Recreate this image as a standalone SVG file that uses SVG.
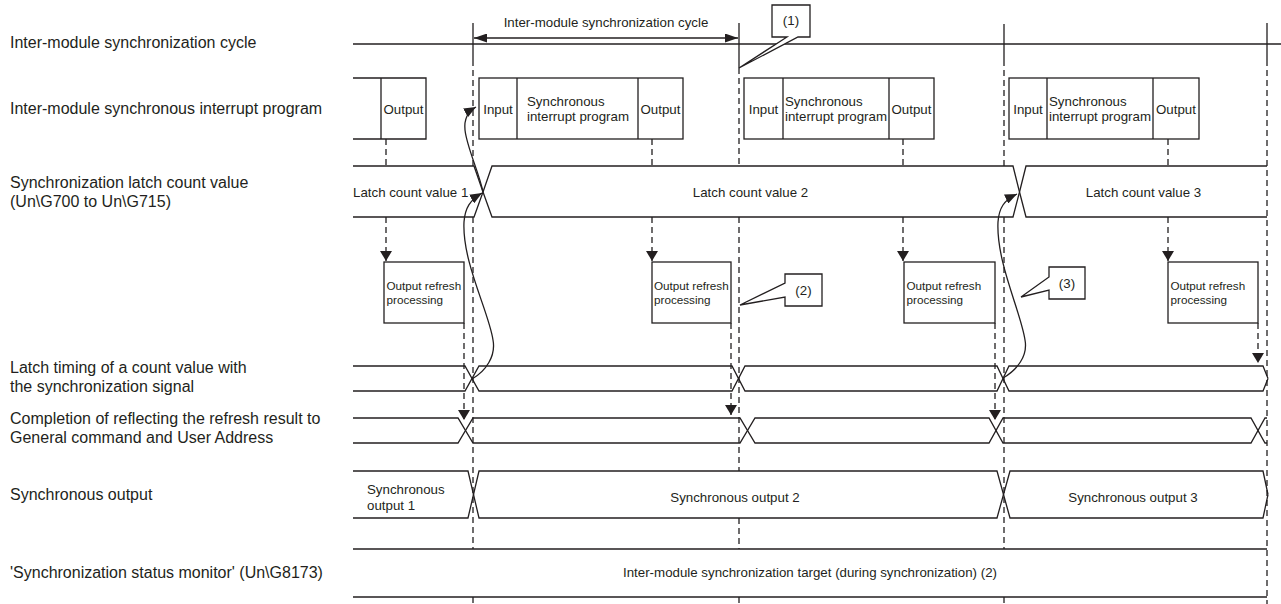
<svg xmlns="http://www.w3.org/2000/svg" width="1281" height="604" viewBox="0 0 1281 604">
<defs>
<style>
.ln{fill:none;stroke:#231f20;stroke-width:1.3}
.bx{fill:#fff;stroke:#231f20;stroke-width:1.3}
.ds{fill:none;stroke:#231f20;stroke-width:1.3;stroke-dasharray:6,4}
.lbl{font-family:"Liberation Sans",Arial,sans-serif;font-size:16px;fill:#231f20}
.t{font-family:"Liberation Sans",Arial,sans-serif;font-size:13.3px;fill:#231f20}
.ts{font-family:"Liberation Sans",Arial,sans-serif;font-size:11.7px;fill:#231f20}
.c{text-anchor:middle}
</style>
<marker id="ad" viewBox="0 0 10 12" refX="10" refY="6" markerWidth="10" markerHeight="12" markerUnits="userSpaceOnUse" orient="auto"><path d="M0,0 L10,6 L0,12 Z" fill="#231f20"/></marker>
<marker id="ac" viewBox="0 0 13 9" refX="13" refY="4.5" markerWidth="13" markerHeight="9" markerUnits="userSpaceOnUse" orient="auto-start-reverse"><path d="M0,0 L13,4.5 L0,9 Z" fill="#231f20"/></marker>
<marker id="av" viewBox="0 0 12 10" refX="12" refY="5" markerWidth="12" markerHeight="10" markerUnits="userSpaceOnUse" orient="auto"><path d="M0,0 L12,5 L0,10 Z" fill="#231f20"/></marker>
</defs>
<rect width="1281" height="604" fill="#fff"/>

<g id="labels">
<text class="lbl" x="10" y="48">Inter-module synchronization cycle</text>
<text class="lbl" x="10" y="114">Inter-module synchronous interrupt program</text>
<text class="lbl" x="10" y="188">Synchronization latch count value</text>
<text class="lbl" x="10" y="207">(Un\G700 to Un\G715)</text>
<text class="lbl" x="10" y="373">Latch timing of a count value with</text>
<text class="lbl" x="10" y="392">the synchronization signal</text>
<text class="lbl" x="10" y="424">Completion of reflecting the refresh result to</text>
<text class="lbl" x="10" y="443">General command and User Address</text>
<text class="lbl" x="10" y="500">Synchronous output</text>
<text class="lbl" x="10" y="578">'Synchronization status monitor' (Un\G8173)</text>
</g>

<g id="connectors">
<path class="ln" d="M353,44 H1281"/>
<path class="ln" d="M473,23 V60 M739,23 V68 M1004,24 V60 M1267,23 V60"/>
<path class="ds" d="M473,60 V166 M473,217 V549 M473,597 V604"/>
<path class="ds" d="M739,68 V166 M739,217 V471 M739,518 V549 M739,597 V604"/>
<path class="ds" d="M1004,60 V166 M1004,217 V549 M1004,597 V604"/>
<path class="ds" d="M1267,60 V604"/>
<path class="ln" d="M474,38 H738" marker-start="url(#ac)" marker-end="url(#ac)"/>
<path class="ds" d="M386,139 V166 M386,217 V261" marker-end="url(#ad)"/>
<path class="ds" d="M652,139 V166 M652,217 V261" marker-end="url(#ad)"/>
<path class="ds" d="M903,139 V166 M903,217 V261" marker-end="url(#ad)"/>
<path class="ds" d="M1168,139 V166 M1168,217 V261" marker-end="url(#ad)"/>
<path class="ds" d="M464,323 V420" marker-end="url(#ad)"/>
<path class="ds" d="M731,323 V415" marker-end="url(#ad)"/>
<path class="ds" d="M995,323 V420" marker-end="url(#ad)"/>
<path class="ds" d="M1258,323 V363" marker-end="url(#ad)"/>
<path class="ln" d="M472,379 C486,371 496,356 493,340 C489,312 462,262 464,222 C465,208 470,200 482,193" marker-end="url(#av)"/>
<path class="ln" d="M483,192 C479,172 467,148 465,130 C464,120 467,112 476,107" marker-end="url(#av)"/>
<path class="ln" d="M1003,378 C1017,370 1028,356 1025,340 C1021,312 996,262 998,222 C999,208 1004,200 1017,194" marker-end="url(#av)"/>
</g>

<text class="t c" x="606" y="27">Inter-module synchronization cycle</text>

<g id="prog1">
<path class="ln" d="M353,78 H426 V139 H353 M381,78 V139"/>
<text class="t c" x="403.5" y="114">Output</text>
</g>
<g id="prog2">
<rect class="bx" x="479" y="78" width="204" height="61"/>
<path class="ln" d="M517,78 V139 M638,78 V139"/>
<text class="t c" x="498" y="114">Input</text>
<text class="t" x="527" y="106">Synchronous</text>
<text class="t" x="527" y="121">interrupt program</text>
<text class="t c" x="660.5" y="114">Output</text>
</g>
<g id="prog3">
<rect class="bx" x="744" y="78" width="190" height="61"/>
<path class="ln" d="M783,78 V139 M889,78 V139"/>
<text class="t c" x="763.5" y="114">Input</text>
<text class="t" x="785" y="106">Synchronous</text>
<text class="t" x="785" y="121">interrupt program</text>
<text class="t c" x="911.5" y="114">Output</text>
</g>
<g id="prog4">
<rect class="bx" x="1009" y="78" width="190" height="61"/>
<path class="ln" d="M1047,78 V139 M1153,78 V139"/>
<text class="t c" x="1028" y="114">Input</text>
<text class="t" x="1049" y="106">Synchronous</text>
<text class="t" x="1049" y="121">interrupt program</text>
<text class="t c" x="1176" y="114">Output</text>
</g>

<g id="latch">
<path class="ln" d="M353,166 H474 L483,192 L474,217 H353"/>
<path class="ln" d="M483,192 L492,166 H1013 L1019.5,192 L1013,217 H492 Z"/>
<path class="ln" d="M1019.5,192 L1026,166 H1267 M1019.5,192 L1026,217 H1267"/>
<text class="t" x="353" y="197">Latch count value 1</text>
<text class="t c" x="750.5" y="197">Latch count value 2</text>
<text class="t c" x="1143.5" y="197">Latch count value 3</text>
</g>

<g id="refresh1">
<rect class="bx" x="384" y="262" width="80" height="61"/>
<text class="ts" x="386.5" y="290">Output refresh</text>
<text class="ts" x="386.5" y="304">processing</text>
</g>
<g id="refresh2">
<rect class="bx" x="652" y="262" width="79" height="61"/>
<text class="ts" x="654" y="290">Output refresh</text>
<text class="ts" x="654" y="304">processing</text>
</g>
<g id="refresh3">
<rect class="bx" x="904" y="262" width="91" height="61"/>
<text class="ts" x="906.5" y="290">Output refresh</text>
<text class="ts" x="906.5" y="304">processing</text>
</g>
<g id="refresh4">
<rect class="bx" x="1168" y="262" width="90" height="61"/>
<text class="ts" x="1170.5" y="290">Output refresh</text>
<text class="ts" x="1170.5" y="304">processing</text>
</g>

<g id="callout1">
<path class="bx" d="M772,5 H810 V37 H798 L739,68 L787,37 H772 Z"/>
<text class="t c" x="791" y="25">(1)</text>
</g>
<g id="callout2">
<path class="bx" d="M785,274 H822 V306 H785 V297 L740,305 L785,283 Z"/>
<text class="t c" x="803.5" y="295">(2)</text>
</g>
<g id="callout3">
<path class="bx" d="M1049,267 H1085 V299 H1049 V290 L1021,297 L1049,277 Z"/>
<text class="t c" x="1067" y="288">(3)</text>
</g>

<g id="latch-timing">
<path class="ln" d="M353,366 H465 L479,391 H732 L745,366 H997 L1009,391 H1263 L1268,378.5"/>
<path class="ln" d="M353,391 H465 L479,366 H732 L745,391 H997 L1009,366 H1263 L1268,378.5"/>
</g>

<g id="completion">
<path class="ln" d="M353,418 H458 L473,443 H740 L755,418 H989 L1003,443 H1251 L1265,418 H1267"/>
<path class="ln" d="M353,443 H458 L473,418 H740 L755,443 H989 L1003,418 H1251 L1265,443 H1267"/>
</g>

<g id="sync-output">
<path class="ln" d="M353,471 H468 L479,518 H997 L1010,471 H1263 L1268,494.5"/>
<path class="ln" d="M353,518 H468 L479,471 H997 L1010,518 H1263 L1268,494.5"/>
<text class="t" x="367" y="494">Synchronous</text>
<text class="t" x="367" y="510">output 1</text>
<text class="t c" x="735" y="502">Synchronous output 2</text>
<text class="t c" x="1133" y="502">Synchronous output 3</text>
</g>

<g id="status">
<path class="ln" d="M353,549 H1267 M353,597 H1267"/>
<text class="t c" x="810" y="577">Inter-module synchronization target (during synchronization) (2)</text>
</g>
</svg>
